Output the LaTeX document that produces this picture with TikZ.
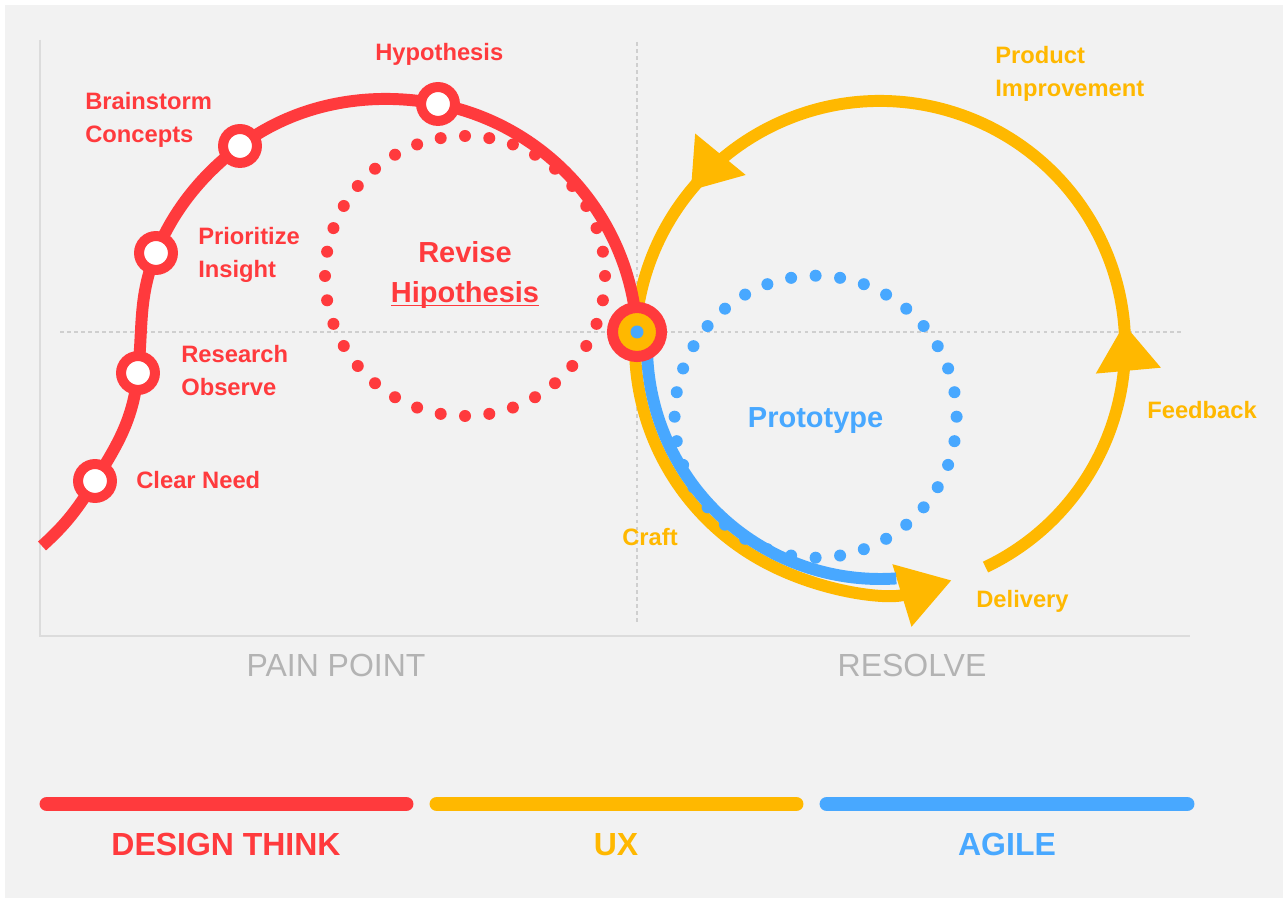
\documentclass[tikz,border=0pt]{standalone}
\usepackage{fontspec}
\setmainfont{Liberation Sans}
\usetikzlibrary{arrows.meta,decorations.markings}

\definecolor{dtred}{HTML}{FF3A3D}
\definecolor{uxyellow}{HTML}{FFB800}
\definecolor{agblue}{HTML}{48A8FF}
\definecolor{bggray}{HTML}{F2F2F2}
\definecolor{axisgray}{HTML}{DCDCDC}
\definecolor{guidegray}{HTML}{CFCFCF}
\definecolor{capgray}{HTML}{B3B3B3}

\begin{document}
\begin{tikzpicture}[x=0.02cm, y=0.02cm,
    stage/.style={circle, draw=dtred, fill=white, line width=5.7pt, minimum size=19.3pt, inner sep=0pt},
    lbl/.style={anchor=base west, font=\bfseries\fontsize{13.5}{18.8}\selectfont, align=left, inner sep=0pt},
    big/.style={anchor=base, font=\bfseries\fontsize{16.5}{23.3}\selectfont, align=center, inner sep=0pt},
    axislabel/.style={anchor=base, font=\fontsize{18.2}{22}\selectfont, text=capgray, inner sep=0pt},
    teamlabel/.style={anchor=base, font=\bfseries\fontsize{18.2}{22}\selectfont, inner sep=0pt},
    bar/.style={line width=8.5pt, line cap=round},
    guide/.style={guidegray, line width=0.9pt, dash pattern=on 2pt off 2pt},
    ycurve/.style={uxyellow, line width=6.8pt},
    bigtip/.style={-{Triangle[length=1.04cm, width=1.24cm]}}]
    \useasboundingbox (0,0) rectangle (1287,902);
    \fill[white] (0,0) rectangle (1287,902);
    \fill[bggray] (5,4) rectangle (1283,897);
    % axes
    \draw[axisgray, line width=1.7pt] (40,862) -- (40,266) -- (1190,266);
    \draw[guide] (60,570) -- (1182,570);
    \draw[guide] (637,860) -- (637,277);

    % ux loop
    \draw[ycurve, bigtip] (635,556) arc[start angle=180, end angle=287, radius=245];
    \draw[ycurve, postaction={decorate}, decoration={markings,
        mark=at position 0.285 with {\arrow{Triangle[length=0.94cm, width=1.24cm]}},
        mark=at position 0.839 with {\arrow{Triangle[length=0.94cm, width=1.24cm]}}}]
        (985.5,334.9) arc[start angle=295.5, end angle=540, radius=245];
    % agile
    \draw[agblue, line width=6.8pt] (647,556) arc[start angle=180, end angle=274, radius=233];

    % dotted loops
    \foreach \a in {0,10,...,350}
        \fill[dtred] (465,626) ++(\a:140) circle[radius=6];
    \foreach \a in {0,10,...,350}
        \fill[agblue] (815.6,485.3) ++(\a:141) circle[radius=6];

    % design think curve
    \coordinate (start) at (42,356);
    \coordinate (pneed) at (95,421);
    \coordinate (presearch) at (138,529);
    \coordinate (pinsight) at (156,649);
    \coordinate (pconcepts) at (240,756);
    \coordinate (phypo) at (438,798);
    \coordinate (phub) at (637,570);
    \draw[dtred, line width=6.8pt] (start) to[out=42, in=238] (pneed)
        to[out=58, in=264] (presearch) to[out=84, in=248] (pinsight)
        to[out=68, in=217, looseness=0.88] (pconcepts)
        to[out=37, in=169, looseness=0.89] (phypo)
        to[out=-11, in=93, looseness=0.95] (phub);
    \node[stage] (need) at (pneed) {};
    \node[stage] (research) at (presearch) {};
    \node[stage] (insight) at (pinsight) {};
    \node[stage] (concepts) at (pconcepts) {};
    \node[stage] (hypo) at (phypo) {};
    \node[circle, fill=uxyellow, draw=dtred, line width=6.3pt, minimum size=27.9pt, inner sep=0pt] (hub) at (phub) {};
    \node[circle, fill=agblue, minimum size=7.4pt, inner sep=0pt] (hubdot) at (hub) {};

    \node[lbl, text=dtred] (hypolbl) at (375,841) {Hypothesis};
    \node[lbl, text=dtred] (conceptslbl) at (85,759) {Brainstorm\\Concepts};
    \node[lbl, text=dtred] (insightlbl) at (198,624) {Prioritize\\Insight};
    \node[lbl, text=dtred] (researchlbl) at (181,506) {Research\\Observe};
    \node[lbl, text=dtred] (needlbl) at (136,413) {Clear Need};
    \node[big, text=dtred] (revise) at (465,599) {Revise\\\underline{\smash{Hipothesis}}};
    \node[lbl, text=uxyellow] (improve) at (995,805) {Product\\Improvement};
    \node[lbl, text=uxyellow] (feedback) at (1147,483) {Feedback};
    \node[lbl, text=uxyellow] (delivery) at (976,294) {Delivery};
    \node[lbl, text=uxyellow] (craft) at (622,356) {Craft};
    \node[big, text=agblue] (proto) at (815.6,474) {Prototype};
    \node[axislabel] (pain) at (336,225) {PAIN POINT};
    \node[axislabel] (resolve) at (912,225) {RESOLVE};

    % legend bars
    \draw[bar, dtred] (47,98) -- (406,98);
    \draw[bar, uxyellow] (437,98) -- (796,98);
    \draw[bar, agblue] (827,98) -- (1187,98);
    \node[teamlabel, text=dtred] (dtname) at (226,47) {DESIGN THINK};
    \node[teamlabel, text=uxyellow] (uxname) at (616,47) {UX};
    \node[teamlabel, text=agblue] (agname) at (1007,47) {AGILE};
\end{tikzpicture}
\end{document}
